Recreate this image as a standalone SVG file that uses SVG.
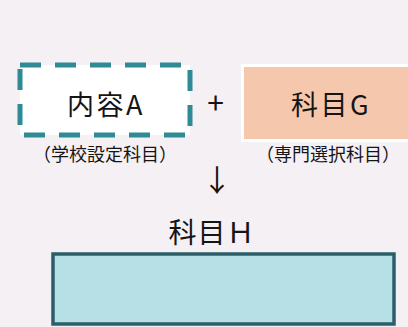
<svg xmlns="http://www.w3.org/2000/svg" width="408" height="327" viewBox="0 0 408 327">
<style>
text{font-family:"Noto Sans CJK JP","Noto Sans",sans-serif;fill:#151515;text-anchor:middle}
.big{font-size:27px;letter-spacing:2.5px}
.small{font-size:18px}
</style>
<rect width="408" height="327" fill="#f5f0f4"/>
<g id="nodeA">
<rect x="20" y="65" width="170" height="70" fill="#ffffff" stroke="#2e8b95" stroke-width="5" stroke-dasharray="21 14"/>
<text class="big" x="106" y="115">内容A</text>
<text class="small" x="105" y="161">（学校設定科目）</text>
</g>
<g id="plus"><text x="215.5" y="114" style="font-size:30px">+</text></g>
<g id="nodeG">
<rect x="242.5" y="65.5" width="170" height="75" fill="#f5c7ad" stroke="#ffffff" stroke-width="3"/>
<text class="big" x="331" y="115">科目G</text>
<text class="small" x="328" y="161">（専門選択科目）</text>
</g>
<g id="connectors"><text x="217" y="191" style="font-size:30px">↓</text></g>
<g id="nodeH">
<text x="212" y="243" style="font-size:28px;letter-spacing:1px">科目Ｈ</text>
<rect x="53" y="254" width="341" height="70" fill="#b7e0e6" stroke="#2a5f68" stroke-width="3.5"/>
</g>
</svg>
